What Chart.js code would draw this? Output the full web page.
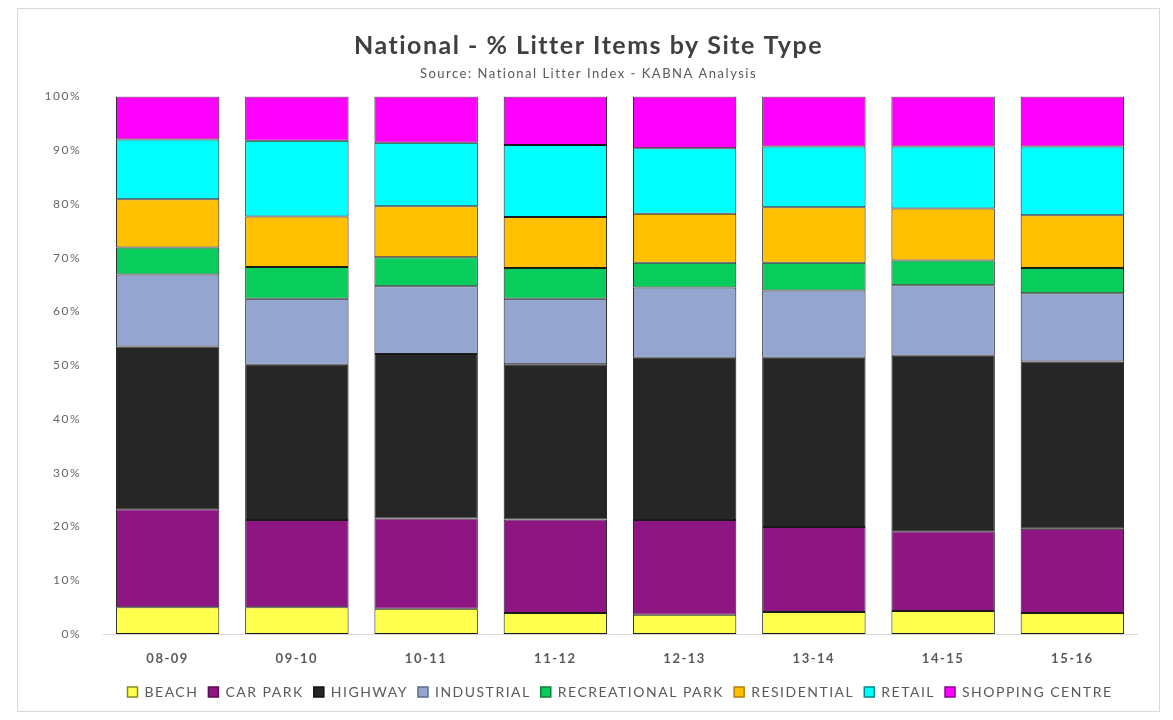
<!DOCTYPE html>
<html>
<head>
<meta charset="utf-8">
<script src="https://cdn.jsdelivr.net/npm/chart.js@4.4.1/dist/chart.umd.min.js"></script>
<style>
	body { margin: 0; background: #ffffff; }
	#frame { position: absolute; left: 17px; top: 8px; width: 1141px; height: 702px; border: 1px solid #d9d9d9; background: #ffffff; }
</style>
</head>
<body>
<div id="frame"><canvas id="litter"></canvas></div>
<script>
// Years along the x axis
var years = ["08-09", "09-10", "10-11", "11-12", "12-13", "13-14", "14-15", "15-16"];
// % of litter items per site type
var beach        = [5.0, 5.0, 4.7, 3.9, 3.6, 4.1, 4.3, 3.9];
var carPark      = [18.2, 16.2, 16.8, 17.4, 17.6, 15.8, 14.8, 15.7];
var highway      = [30.3, 28.9, 30.6, 28.9, 30.2, 31.5, 32.7, 31.1];
var industrial   = [13.4, 12.3, 12.6, 12.2, 13.1, 12.5, 13.1, 12.7];
var recreational = [5.0, 5.9, 5.4, 5.7, 4.6, 5.2, 4.6, 4.7];
var residential  = [9.0, 9.4, 9.5, 9.5, 9.1, 10.3, 9.7, 9.8];
var retail       = [11.1, 14.1, 11.8, 13.4, 12.2, 11.3, 11.5, 12.8];
var shopping     = [8.0, 8.2, 8.6, 9.0, 9.6, 9.3, 9.3, 9.3];
var yTicks = [0, 10, 20, 30, 40, 50, 60, 70, 80, 90, 100];

var seriesNames = ["BEACH", "CAR PARK", "HIGHWAY", "INDUSTRIAL", "RECREATIONAL PARK", "RESIDENTIAL", "RETAIL", "SHOPPING CENTRE"];
var seriesData = [beach, carPark, highway, industrial, recreational, residential, retail, shopping];
var fills = ["#ffff4d", "#8e1683", "#262626", "#94a6cf", "#08cc5c", "#ffc000", "#00ffff", "#ff00ff"];
var keyEdges = ["#8a8a20", "#5a0c52", "#111111", "#5a6c90", "#06803a", "#b08000", "#008a8a", "#900090"];

var datasets = seriesData.map(function(d, i) {
	return {
		label: seriesNames[i],
		data: d,
		backgroundColor: fills[i],
		borderColor: "#1a1a1a",
		borderWidth: 1,
		borderSkipped: false
	};
});

// the picture's text is a bit stretched, so space the letters out
var spacing = {
	id: "spacing",
	beforeUpdate: function(c) { c.ctx.letterSpacing = "1.5px"; },
	beforeLayout: function(c) { c.ctx.letterSpacing = "1.5px"; },
	beforeDraw: function(c) { c.ctx.letterSpacing = "1.5px"; }
};

var ctx = document.getElementById("litter").getContext("2d");
var chart = new Chart(ctx, {
	type: "bar",
	data: { labels: years, datasets: datasets },
	plugins: [spacing],
	options: {
		responsive: true,
		maintainAspectRatio: false,
		animation: false,
		categoryPercentage: 0.8,
		barPercentage: 1,
		layout: { padding: { left: 0, right: 0, top: 8, bottom: 2 } },
		plugins: {
			title: {
				display: true,
				text: "National - % Litter Items by Site Type",
				color: "#404040",
				font: { family: "Lato", size: 25, weight: "bold" },
				padding: { top: 14, bottom: 5 }
			},
			subtitle: {
				display: true,
				text: "Source: National Litter Index - KABNA Analysis",
				color: "#595959",
				font: { family: "Lato", size: 13 },
				padding: { bottom: 15 }
			},
			legend: {
				position: "bottom",
				fullSize: false,
				labels: {
					color: "#595959",
					font: { family: "Lato", size: 14 },
					boxWidth: 10,
					boxHeight: 10,
					padding: 10,
					generateLabels: function(c) {
						return c.data.datasets.map(function(ds, i) {
							return {
								text: ds.label,
								fillStyle: ds.backgroundColor,
								strokeStyle: keyEdges[i],
								lineWidth: 1.5,
								fontColor: "#595959",
								datasetIndex: i
							};
						});
					}
				}
			},
			tooltip: { enabled: false }
		},
		scales: {
			x: {
				stacked: true,
				afterFit: function(s) { s.height = 41; },
				grid: { display: false },
				border: { color: "#d9d9d9" },
				ticks: { color: "#595959", font: { family: "Lato", size: 13, weight: "bold" }, padding: 9 }
			},
			y: {
				stacked: true,
				min: 0,
				max: 100,
				afterFit: function(s) { s.width = 85; },
				afterBuildTicks: function(s) { s.ticks = yTicks.map(function(v) { return { value: v }; }); },
				grid: { display: false },
				border: { display: false },
				ticks: {
					color: "#666666",
					font: { family: "Lato", size: 12 },
					padding: 14,
					callback: function(v) { return v + "%"; }
				}
			},
			// empty right axis, only keeps a margin right of the bars
			gap: {
				position: "right",
				afterFit: function(s) { s.width = 22; },
				grid: { display: false },
				border: { display: false },
				ticks: { display: false }
			}
		}
	}
});
</script>
</body>
</html>
